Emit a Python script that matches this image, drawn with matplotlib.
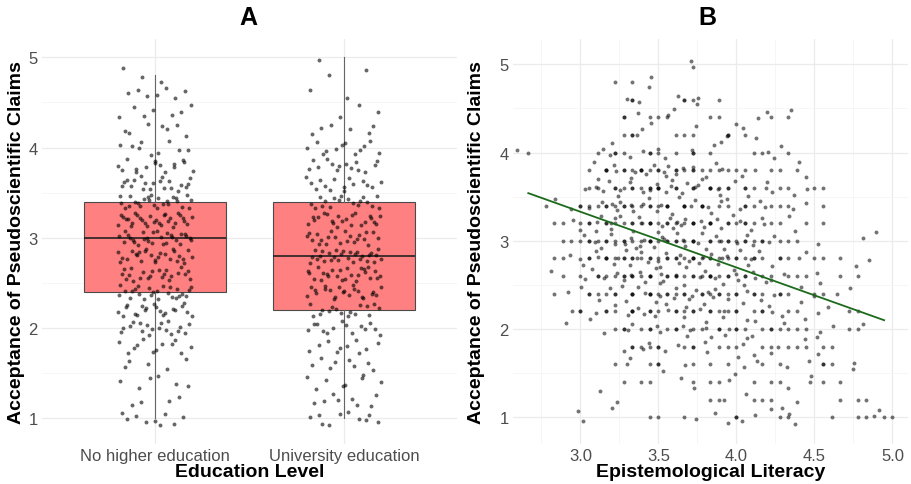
import numpy as np
import matplotlib.pyplot as plt

plt.rcParams['font.family'] = ['Liberation Sans', 'DejaVu Sans']

# ---- Panel A: respondents per score level (scores come in steps of 0.2)
score_levels = [1.0, 1.2, 1.4, 1.6, 1.8, 2.0, 2.2, 2.4, 2.6, 2.8, 3.0,
                3.2, 3.4, 3.6, 3.8, 4.0, 4.2, 4.4, 4.6, 4.8, 5.0]
no_higher_counts = [9, 4, 6, 5, 12, 18, 20, 25, 22, 26, 28,
                    30, 25, 20, 15, 9, 7, 7, 7, 3, 0]
university_counts = [10, 8, 8, 8, 10, 14, 16, 22, 25, 28, 22,
                     22, 18, 15, 14, 12, 6, 3, 2, 2, 1]
education_labels = ['No higher education', 'University education']

# ---- Panel B: literacy scores are means of 18 items -> steps of 1/18
literacy_levels = np.arange(47, 91) / 18  # 2.61 ... 5.00
# counts per (score row, literacy column); rows from 5.0 down to 1.0,
# groups of 5 columns separated by spaces
literacy_counts = [
    "00000 00000 00000 00000 2",                           # 5.0
    "00000 00000 01010 2",                                 # 4.8
    "00000 00000 00121 00012 21010",                       # 4.6
    "00000 00000 00201 21210 10110 10102 02",              # 4.4
    "00000 00000 01122 00011 10013 021",                   # 4.2
    "11000 00001 22111 22110 30200 00112 11",              # 4.0
    "00000 00012 32233 32332 32131 12101 1021",            # 3.8
    "00000 00112 23232 34232 32332 13112 11111 1",         # 3.6
    "00011 01222 23332 33323 23222 12121 11110 1",         # 3.4
    "00001 11223 33233 33333 32322 32221 11110 1",         # 3.2
    "00000 11223 23333 33333 33233 23222 11101 00000 11",  # 3.0
    "00001 11222 33333 33333 33332 32321 21111 10101 1",   # 2.8
    "00001 10122 22333 33333 23332 32222 11111 10101",     # 2.6
    "00001 01122 22232 33232 32332 22221 21112 10110",     # 2.4
    "00000 01211 22132 22223 22222 22122 11111 01011",     # 2.2
    "00000 10000 11221 22122 22222 21212 21111 11011 1",   # 2.0
    "00000 00000 00122 22111 21111 12112 11121 11",        # 1.8
    "00000 00000 01110 12101 10101 11110 11010 21011",     # 1.6
    "00000 00000 00101 10001 20111 10101 11011 1010",      # 1.4
    "00000 00001 02000 00000 00111 01111 10100 00101 1",   # 1.2
    "00000 00200 00000 11001 10011 21101 12100 01001 1211",  # 1.0
]
# fitted regression line
fit_x = [2.666, 4.947]
fit_y = [3.54, 2.10]


def halton(idx, base):
    # low-discrepancy sequence in [0, 1), used as a deterministic jitter
    i = np.asarray(idx) + 1
    f = np.ones(i.shape)
    r = np.zeros(i.shape)
    while np.any(i > 0):
        f = f / base
        r = r + f * (i % base)
        i = i // base
    return r


fig = plt.figure(figsize=(9.12, 4.85), dpi=100)
W, H = 912, 485
axA = fig.add_axes([42 / W, 40 / H, 415 / W, 405 / H])
axB = fig.add_axes([513 / W, 40 / H, 395 / W, 405 / H])

# ---------------- Panel A ----------------
groups = [np.repeat(score_levels, no_higher_counts),
          np.repeat(score_levels, university_counts)]
axA.boxplot(groups, positions=[1, 2], widths=0.75, patch_artist=True,
            showfliers=False, showcaps=False, whis=1.5,
            boxprops=dict(facecolor='#FF8080', edgecolor='#4A4A4A', linewidth=0.8),
            whiskerprops=dict(color='#666666', linewidth=0.8),
            medianprops=dict(color='#222222', linewidth=1.2), zorder=2)
start = 0
for pos, ys in zip([1, 2], groups):
    i = np.arange(start, start + len(ys))
    start += len(ys)
    axA.scatter(pos + (halton(i, 2) - 0.5) * 0.4, ys + (halton(i, 3) - 0.5) * 0.16,
                s=8, c='black', alpha=0.6, linewidths=0, zorder=3)

axA.set_xlim(0.4, 2.6)
axA.set_ylim(0.715, 5.203)
axA.set_xticks([1, 2])
axA.set_xticklabels(education_labels)
axA.set_yticks([1, 2, 3, 4, 5])
axA.set_yticks([1.5, 2.5, 3.5, 4.5], minor=True)
axA.set_xlabel('Education Level', fontsize=14, fontweight='bold')
axA.set_ylabel('Acceptance of Pseudoscientific Claims', fontsize=14, fontweight='bold')
axA.xaxis.set_label_coords(0.5, -0.046)
axA.yaxis.set_label_coords(-0.041, 0.5)

# ---------------- Panel B ----------------
xs, ys = [], []
j = 0
for r, row in enumerate(literacy_counts):
    score = score_levels[::-1][r]
    for k, ch in enumerate(row.replace(' ', '')):
        for _ in range(int(ch)):
            x, y = literacy_levels[k], score
            # part of the answers sit off the 1/18 x 0.2 lattice
            if halton(j, 5) < 0.45:
                x += (halton(j, 2) - 0.5) / 18
                y += (halton(j, 3) - 0.5) * 0.2
            xs.append(x)
            ys.append(y)
            j += 1
axB.scatter(xs, ys, s=8, c='black', alpha=0.55, linewidths=0, zorder=3)
axB.plot(fit_x, fit_y, color='#1B6B1B', linewidth=1.3, zorder=4)

axB.set_xlim(2.568, 5.10)
axB.set_ylim(0.697, 5.287)
axB.set_xticks([3.0, 3.5, 4.0, 4.5, 5.0])
axB.set_xticklabels(['3.0', '3.5', '4.0', '4.5', '5.0'])
axB.set_xticks([2.75, 3.25, 3.75, 4.25, 4.75], minor=True)
axB.set_yticks([1, 2, 3, 4, 5])
axB.set_yticks([1.5, 2.5, 3.5, 4.5], minor=True)
axB.set_xlabel('Epistemological Literacy', fontsize=14, fontweight='bold')
axB.set_ylabel('Acceptance of Pseudoscientific Claims', fontsize=14, fontweight='bold')
axB.xaxis.set_label_coords(0.5, -0.046)
axB.yaxis.set_label_coords(-0.071, 0.5)

for ax in (axA, axB):
    for s in ax.spines.values():
        s.set_visible(False)
    ax.tick_params(which='both', length=0, labelcolor='#4D4D4D', labelsize=12, pad=3)
    ax.grid(which='major', color='#EBEBEB', linewidth=0.9)
    ax.grid(which='minor', color='#F3F3F3', linewidth=0.5)
    ax.set_axisbelow(True)
axA.grid(which='minor', axis='x', visible=False)

fig.text(248.5 / W, 1 - 18 / H, 'A', ha='center', va='center', fontsize=18, fontweight='bold')
fig.text(707 / W, 1 - 18 / H, 'B', ha='center', va='center', fontsize=18, fontweight='bold')

fig.savefig('out.png', dpi=100)
